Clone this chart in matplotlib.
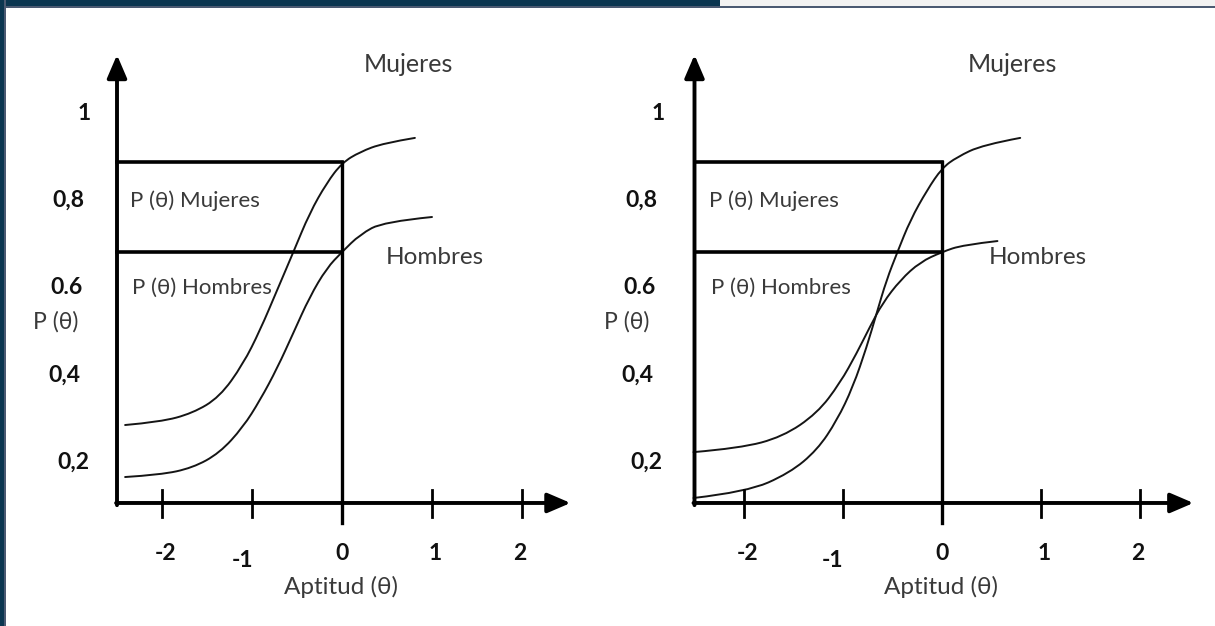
import matplotlib
matplotlib.use("Agg")
import matplotlib.pyplot as plt
from matplotlib.patches import Rectangle, PathPatch
from matplotlib.path import Path

# values
x_ticks = [-2, -1, 0, 1, 2]
x_tick_labels = ['-2', '-1', '0', '1', '2']
y_ticks = [0.2, 0.4, 0.6, 0.8, 1.0]
y_tick_labels = ['0,2', '0,4', '0.6', '0,8', '1']

# left panel: same discrimination, different guessing
theta_muj_1 = [-2.41, -2.02, -1.66, -1.36, -1.10, -0.91, -0.72, -0.54, -0.36, -0.17, 0.0, 0.20, 0.46, 0.81]
p_muj_1 = [0.286, 0.293, 0.313, 0.350, 0.425, 0.503, 0.595, 0.682, 0.771, 0.840, 0.886, 0.911, 0.931, 0.943]
theta_hom_1 = [-2.41, -2.02, -1.66, -1.36, -1.10, -0.91, -0.72, -0.54, -0.36, -0.17, 0.0, 0.20, 0.46, 1.00]
p_hom_1 = [0.167, 0.172, 0.188, 0.222, 0.281, 0.343, 0.416, 0.497, 0.579, 0.645, 0.682, 0.722, 0.751, 0.762]

# right panel: curves that cross
theta_muj_2 = [-2.51, -1.97, -1.54, -1.26, -1.06, -0.90, -0.76, -0.66, -0.56, -0.45, -0.32, -0.15, 0.0, 0.15, 0.41, 0.79]
p_muj_2 = [0.119, 0.133, 0.176, 0.229, 0.297, 0.373, 0.465, 0.542, 0.618, 0.682, 0.755, 0.824, 0.874, 0.899, 0.927, 0.943]
theta_hom_2 = [-2.51, -2.04, -1.61, -1.26, -1.03, -0.86, -0.73, -0.60, -0.42, -0.22, 0.0, 0.21, 0.56]
p_hom_2 = [0.224, 0.233, 0.259, 0.313, 0.382, 0.451, 0.510, 0.565, 0.618, 0.659, 0.682, 0.698, 0.707]

p_box_muj = 0.888
p_box_hom = 0.682

THETA_MIN = -2.5
THETA_TIP = 2.54
P_AXIS = 0.1076
P_TIP = 1.133

W, H = 1215, 626
NAVY = '#0b3650'
SLATE = '#4b5a72'
TXT = '#3a3a3a'
FONT = ['Lato', 'DejaVu Sans']
LW_AXIS = 2.8
LW_CURVE = 1.4

# label nudges (in theta units), the drawing is hand made
ylab_dx = [-2.99, -3.08, -3.06, -3.04, -2.87]
xlab_dx = [0.04, -0.11, 0.0, 0.03, -0.02]
xlab_y = [-0.007, -0.023, -0.007, -0.007, -0.007]

plt.rcParams['font.family'] = FONT

fig = plt.figure(figsize=(W / 100, H / 100), dpi=100)
fig.patch.set_facecolor('white')

p_bottom = (550 - H) / 437
p_top = 550 / 437


def smooth_curve(ax, xs, ys):
    # quadratic pieces through the midpoints, read points act as control points
    verts = [(xs[0], ys[0])]
    codes = [Path.MOVETO]
    for i in range(1, len(xs) - 1):
        mid = ((xs[i] + xs[i + 1]) / 2, (ys[i] + ys[i + 1]) / 2)
        if i == len(xs) - 2:
            mid = (xs[-1], ys[-1])
        verts += [(xs[i], ys[i]), mid]
        codes += [Path.CURVE3, Path.CURVE3]
    ax.add_patch(PathPatch(Path(verts, codes), facecolor='none',
                           edgecolor='#151515', lw=LW_CURVE, capstyle='round'))


def draw_panel(ax, theta_m, p_m, theta_h, p_h, hom_label_x, muj_label_x):
    ax.set_ylim(p_bottom, p_top)
    ax.axis('off')

    # axes with arrows
    ax.annotate('', xy=(THETA_TIP, P_AXIS), xytext=(THETA_MIN - 0.01, P_AXIS),
                arrowprops=dict(arrowstyle='-|>,head_length=1.4,head_width=0.6',
                                lw=LW_AXIS, color='black', shrinkA=0, shrinkB=0,
                                mutation_scale=10))
    ax.annotate('', xy=(THETA_MIN, P_TIP), xytext=(THETA_MIN, P_AXIS - 0.005),
                arrowprops=dict(arrowstyle='-|>,head_length=1.4,head_width=0.6',
                                lw=LW_AXIS, color='black', shrinkA=0, shrinkB=0,
                                mutation_scale=10))
    for t in x_ticks:
        if t != 0:
            ax.plot([t, t], [0.075, 0.137], color='black', lw=2.0)

    # box lines
    ax.plot([THETA_MIN, 0], [p_box_muj, p_box_muj], color='black', lw=2.6)
    ax.plot([THETA_MIN, 0], [p_box_hom, p_box_hom], color='black', lw=2.6)
    ax.plot([0, 0], [0.062, p_box_muj], color='black', lw=2.4)

    # curves
    smooth_curve(ax, theta_m, p_m)
    smooth_curve(ax, theta_h, p_h)

    # tick labels
    for t, lab, dx, yy in zip(x_ticks, x_tick_labels, xlab_dx, xlab_y):
        ax.text(t + dx, yy, lab, ha='center', va='center', fontsize=16.5,
                fontweight='bold', color='#111111')
    for v, lab, xx in zip(y_ticks, y_tick_labels, ylab_dx):
        ax.text(xx, v, lab, ha='center', va='center', fontsize=16.5,
                fontweight='bold', color='#111111')
    ax.text(-3.18, 0.522, 'P (θ)', ha='center', va='center', fontsize=16.5, color=TXT)
    ax.text(-0.01, -0.085, 'Aptitud (θ)', ha='center', va='center', fontsize=17.5, color=TXT)

    ax.text(-2.35, 0.80, 'P (θ) Mujeres', ha='left', va='center', fontsize=16, color=TXT)
    ax.text(-2.33, 0.60, 'P (θ) Hombres', ha='left', va='center', fontsize=16, color=TXT)
    ax.text(muj_label_x, 1.11, 'Mujeres', ha='center', va='center', fontsize=18, color=TXT)
    ax.text(hom_label_x, 0.67, 'Hombres', ha='center', va='center', fontsize=17.5, color=TXT)


ax1 = fig.add_axes([0, 0, 605 / W, 1])
ax1.set_xlim((0 - 342) / 90, (605 - 342) / 90)
draw_panel(ax1, theta_muj_1, p_muj_1, theta_hom_1, p_hom_1, 1.03, 0.74)

ax2 = fig.add_axes([605 / W, 0, 610 / W, 1])
ax2.set_xlim((605 - 942) / 99, (1215 - 942) / 99)
draw_panel(ax2, theta_muj_2, p_muj_2, theta_hom_2, p_hom_2, 0.97, 0.71)

# page frame around the picture
def frame_rect(x, y, w, h, color):
    fig.patches.append(Rectangle((x / W, 1 - (y + h) / H), w / W, h / H,
                                 transform=fig.transFigure, color=color,
                                 zorder=10, lw=0))

frame_rect(720, 0, W - 720, 6, '#f2f2f2')
frame_rect(0, 6, W, 2, SLATE)
frame_rect(0, 0, 720, 6, NAVY)
frame_rect(4, 0, 2, H, SLATE)
frame_rect(0, 0, 4, H, NAVY)

fig.savefig('out.png', dpi=100)
